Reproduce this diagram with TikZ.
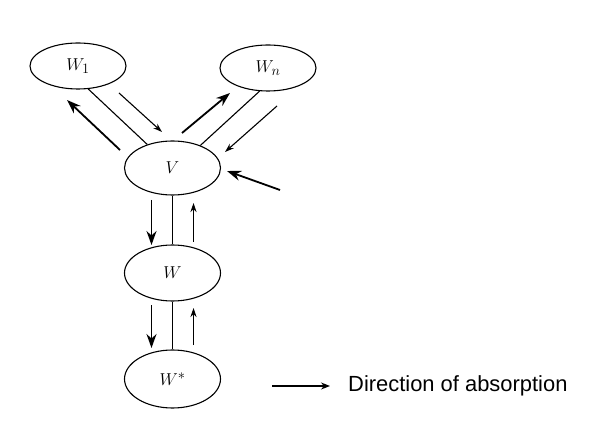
\documentclass[tikz,border=0pt]{standalone}
\usepackage{fontspec}
\newfontfamily\legendfont{Liberation Sans}
\usetikzlibrary{shapes.geometric,arrows.meta}
\begin{document}
\begin{tikzpicture}[x=1bp,y=-1bp,
  state/.style={draw,ellipse,line width=1.1bp,minimum width=96bp,inner sep=0pt,font=\fontsize{19}{22}\selectfont},
  link/.style={line width=1.1bp},
  strong/.style={line width=1.8bp,-{Stealth[length=14bp,width=10bp]}},
  weak/.style={line width=1.1bp,-{Stealth[length=9bp,width=6bp]}}]
\useasboundingbox (0,0) rectangle (596,448);
\node[state,minimum height=46bp] (W1) at (78,66) {$W_1$};
\node[state,minimum height=46bp] (Wn) at (268,68) {$W_n$};
\node[state,minimum height=54bp] (V) at (172.5,168) {$V$};
\node[state,minimum height=56bp] (W) at (172.5,273) {$W$};
\node[state,minimum height=58bp] (Ws) at (172.5,379) {$W^*$};
\draw[link] (W1.-66) -- (V.137);
\draw[link] (Wn.-110) -- (V.39);
\draw[link] (V.south) -- (W.north);
\draw[link] (W.south) -- (Ws.north);
\coordinate (a1s) at (120,150); \coordinate (a1e) at (67,100);
\coordinate (a2s) at (119,93);  \coordinate (a2e) at (162,132);
\coordinate (a3s) at (182,133); \coordinate (a3e) at (230,93);
\coordinate (a4s) at (277,106); \coordinate (a4e) at (225,152);
\coordinate (a5s) at (280,190); \coordinate (a5e) at (227,171);
\coordinate (a6s) at (151.5,200); \coordinate (a6e) at (151.5,245);
\coordinate (a7s) at (193.5,242); \coordinate (a7e) at (193.5,203);
\coordinate (a8s) at (151.5,305); \coordinate (a8e) at (151.5,348);
\coordinate (a9s) at (193.5,345); \coordinate (a9e) at (193.5,308);
\draw[strong] (a1s) -- (a1e);
\draw[weak] (a2s) -- (a2e);
\draw[strong] (a3s) -- (a3e);
\draw[weak] (a4s) -- (a4e);
\draw[strong] (a5s) -- (a5e);
\draw[strong] (a6s) -- (a6e);
\draw[weak] (a7s) -- (a7e);
\draw[strong] (a8s) -- (a8e);
\draw[weak] (a9s) -- (a9e);
\coordinate (ls) at (272,386);
\node[anchor=west,inner sep=0pt,font=\legendfont\fontsize{22}{26}\selectfont] (leg) at (348,386) {Direction of absorption};
\draw[line width=1.3bp,-{Stealth[length=9bp,width=7bp]}] (ls) -- ([xshift=-18bp]leg.west);
\end{tikzpicture}
\end{document}
